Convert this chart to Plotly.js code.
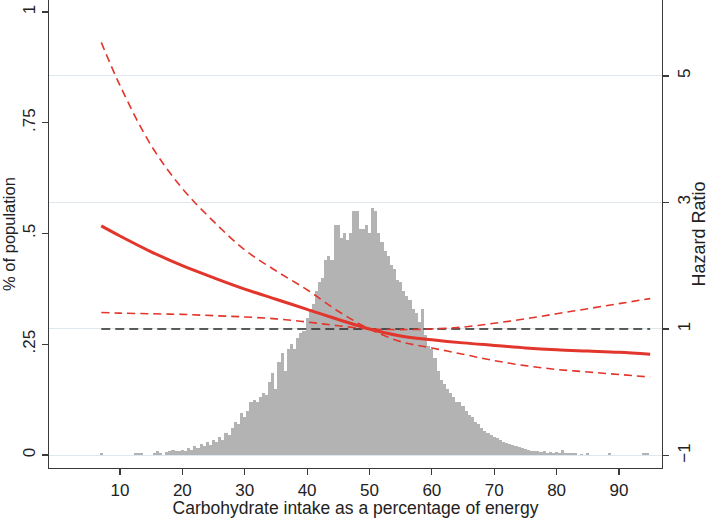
<!DOCTYPE html>
<html>
<head>
<meta charset="utf-8">
<script src="https://cdn.plot.ly/plotly-3.0.1.min.js"></script>
<style>
  html, body { margin: 0; padding: 0; background: #fff; }
  #chart { width: 709px; height: 518px; }
</style>
</head>
<body>
<div id="chart"></div>
<script>
// Histogram: % of population per 0.5-point bin of carbohydrate intake
const binStart = 7;
const binWidth = 0.5;
const pctPopulation = [
  0.005, 0,      // 7
  0, 0,          // 8
  0, 0,          // 9
  0, 0,          // 10
  0, 0,          // 11
  0, 0.005,      // 12
  0.005, 0.005,  // 13
  0, 0,          // 14
  0, 0.005,      // 15
  0.008, 0.005,  // 16
  0, 0.006,      // 17
  0.008, 0.012,  // 18
  0.008, 0.01,   // 19
  0.012, 0.008,  // 20
  0.015, 0.012,  // 21
  0.02, 0.015,   // 22
  0.025, 0.02,   // 23
  0.03, 0.022,   // 24
  0.035, 0.03,   // 25
  0.04, 0.035,   // 26
  0.05, 0.045,   // 27
  0.06, 0.075,   // 28
  0.07, 0.095,   // 29
  0.085, 0.1,    // 30
  0.12, 0.125,   // 31
  0.12, 0.13,    // 32
  0.14, 0.135,   // 33
  0.165, 0.185,  // 34
  0.15, 0.21,    // 35
  0.23, 0.19,    // 36
  0.24, 0.25,    // 37
  0.24, 0.265,   // 38
  0.275, 0.28,   // 39
  0.31, 0.33,    // 40
  0.34, 0.37,    // 41
  0.39, 0.40,    // 42
  0.44, 0.45,    // 43
  0.44, 0.52,    // 44
  0.52, 0.49,    // 45
  0.50, 0.485,   // 46
  0.50, 0.55,    // 47
  0.55, 0.51,    // 48
  0.51, 0.52,    // 49
  0.50, 0.557,   // 50
  0.55, 0.50,    // 51
  0.48, 0.46,    // 52
  0.45, 0.43,    // 53
  0.42, 0.395,   // 54
  0.39, 0.37,    // 55
  0.36, 0.35,    // 56
  0.33, 0.32,    // 57
  0.30, 0.33,    // 58
  0.27, 0.245,   // 59
  0.24, 0.22,    // 60
  0.19, 0.17,    // 61
  0.16, 0.15,    // 62
  0.14, 0.13,    // 63
  0.12, 0.12,    // 64
  0.11, 0.10,    // 65
  0.09, 0.085,   // 66
  0.075, 0.07,   // 67
  0.06, 0.055,   // 68
  0.05, 0.045,   // 69
  0.04, 0.038,   // 70
  0.035, 0.03,   // 71
  0.028, 0.025,  // 72
  0.022, 0.02,   // 73
  0.018, 0.015,  // 74
  0.013, 0.012,  // 75
  0.01, 0.008,   // 76
  0.01, 0.006,   // 77
  0.008, 0.005,  // 78
  0.006, 0.004,  // 79
  0.006, 0.004,  // 80
  0.012, 0.005,  // 81
  0.005, 0.004,  // 82
  0.004, 0,      // 83
  0.003, 0,      // 84
  0.004, 0,      // 85
  0, 0,          // 86
  0, 0,          // 87
  0, 0.004,      // 88
  0, 0,          // 89
  0, 0,          // 90
  0, 0,          // 91
  0, 0,          // 92
  0, 0,          // 93
  0.004, 0.004,  // 94
  0              // 95
];
const binCenters = pctPopulation.map((_, i) => binStart + i * binWidth);

// Hazard ratio curve and 95% CI (right axis)
const carbPoints = [7, 10, 15, 20, 25, 30, 35, 40, 45, 50, 55, 60, 65, 70, 75, 80, 85, 90, 95];
const hazardRatio = [2.63, 2.47, 2.22, 2.00, 1.81, 1.63, 1.47, 1.31, 1.15, 1.00, 0.89, 0.83, 0.78, 0.74, 0.70, 0.67, 0.65, 0.63, 0.60];
const ciSteep = [5.53, 4.85, 3.90, 3.22, 2.70, 2.25, 1.92, 1.62, 1.28, 1.00, 0.80, 0.70, 0.60, 0.50, 0.42, 0.36, 0.32, 0.28, 0.24];
const ciFlat = [1.26, 1.25, 1.24, 1.23, 1.21, 1.19, 1.16, 1.11, 1.05, 1.00, 0.99, 1.00, 1.03, 1.09, 1.16, 1.24, 1.32, 1.40, 1.48];
const refX = [7, 95];
const refHR = [1, 1];

const red = '#e2352b';
const axisColor = '#3a3a3a';
const fam = 'Liberation Sans, Arial, sans-serif';
const tickFont = { family: fam, size: 17, color: '#222' };

const hist = {
  x: binCenters,
  y: pctPopulation,
  type: 'bar',
  width: binWidth,
  marker: { color: '#b3b3b3', line: { width: 0 } },
  yaxis: 'y',
  hoverinfo: 'skip'
};

const refLine = {
  x: refX, y: refHR, yaxis: 'y2', mode: 'lines',
  line: { color: '#2a2a2a', width: 1.6, dash: '9px,5px' }
};

const upper = {
  x: carbPoints, y: ciSteep, yaxis: 'y2', mode: 'lines',
  line: { color: red, width: 1.6, dash: '8px,5px', shape: 'spline' }
};

const lower = {
  x: carbPoints, y: ciFlat, yaxis: 'y2', mode: 'lines',
  line: { color: red, width: 1.6, dash: '8px,5px', shape: 'spline' }
};

const hr = {
  x: carbPoints, y: hazardRatio, yaxis: 'y2', mode: 'lines',
  line: { color: red, width: 3, shape: 'spline' }
};

const layout = {
  width: 709,
  height: 518,
  margin: { l: 49, r: 47, t: 0, b: 50 },
  paper_bgcolor: '#fff',
  plot_bgcolor: '#fff',
  showlegend: false,
  bargap: 0,
  font: tickFont,
  xaxis: {
    range: [-1.38, 96.9],
    tickvals: [10, 20, 30, 40, 50, 60, 70, 80, 90],
    ticks: 'outside', ticklen: 6, tickcolor: axisColor, tickwidth: 1.2,
    showline: true, linecolor: axisColor, linewidth: 1.4,
    showgrid: false, zeroline: false,
    tickfont: tickFont,
    title: { text: 'Carbohydrate intake as a percentage of energy', font: { family: fam, size: 17.5, color: '#222' }, standoff: 2 }
  },
  yaxis: {
    range: [-0.0293, 1.027],
    tickvals: [0, 0.25, 0.5, 0.75, 1],
    ticktext: ['0', '.25', '.5', '.75', '1'],
    tickangle: -90,
    ticks: 'outside', ticklen: 6, tickcolor: axisColor, tickwidth: 1.2,
    showline: true, linecolor: axisColor, linewidth: 1.4,
    showgrid: false, zeroline: false,
    tickfont: tickFont,
    title: { text: '% of population', font: { family: fam, size: 16.5, color: '#222' }, standoff: 6 }
  },
  yaxis2: {
    overlaying: 'y',
    side: 'right',
    anchor: 'x',
    range: [-1.198, 6.20],
    tickvals: [-1, 1, 3, 5],
    tickangle: -90,
    ticks: 'outside', ticklen: 6, tickcolor: axisColor, tickwidth: 1.2,
    showline: true, linecolor: axisColor, linewidth: 1.4,
    showgrid: true, gridcolor: '#dfe8ec', gridwidth: 1,
    zeroline: false,
    tickfont: tickFont,
    title: { text: 'Hazard Ratio', font: { family: fam, size: 18, color: '#222' }, standoff: 4 }
  }
};

Plotly.newPlot('chart', [hist, refLine, upper, lower, hr], layout, { staticPlot: true });
</script>
</body>
</html>
